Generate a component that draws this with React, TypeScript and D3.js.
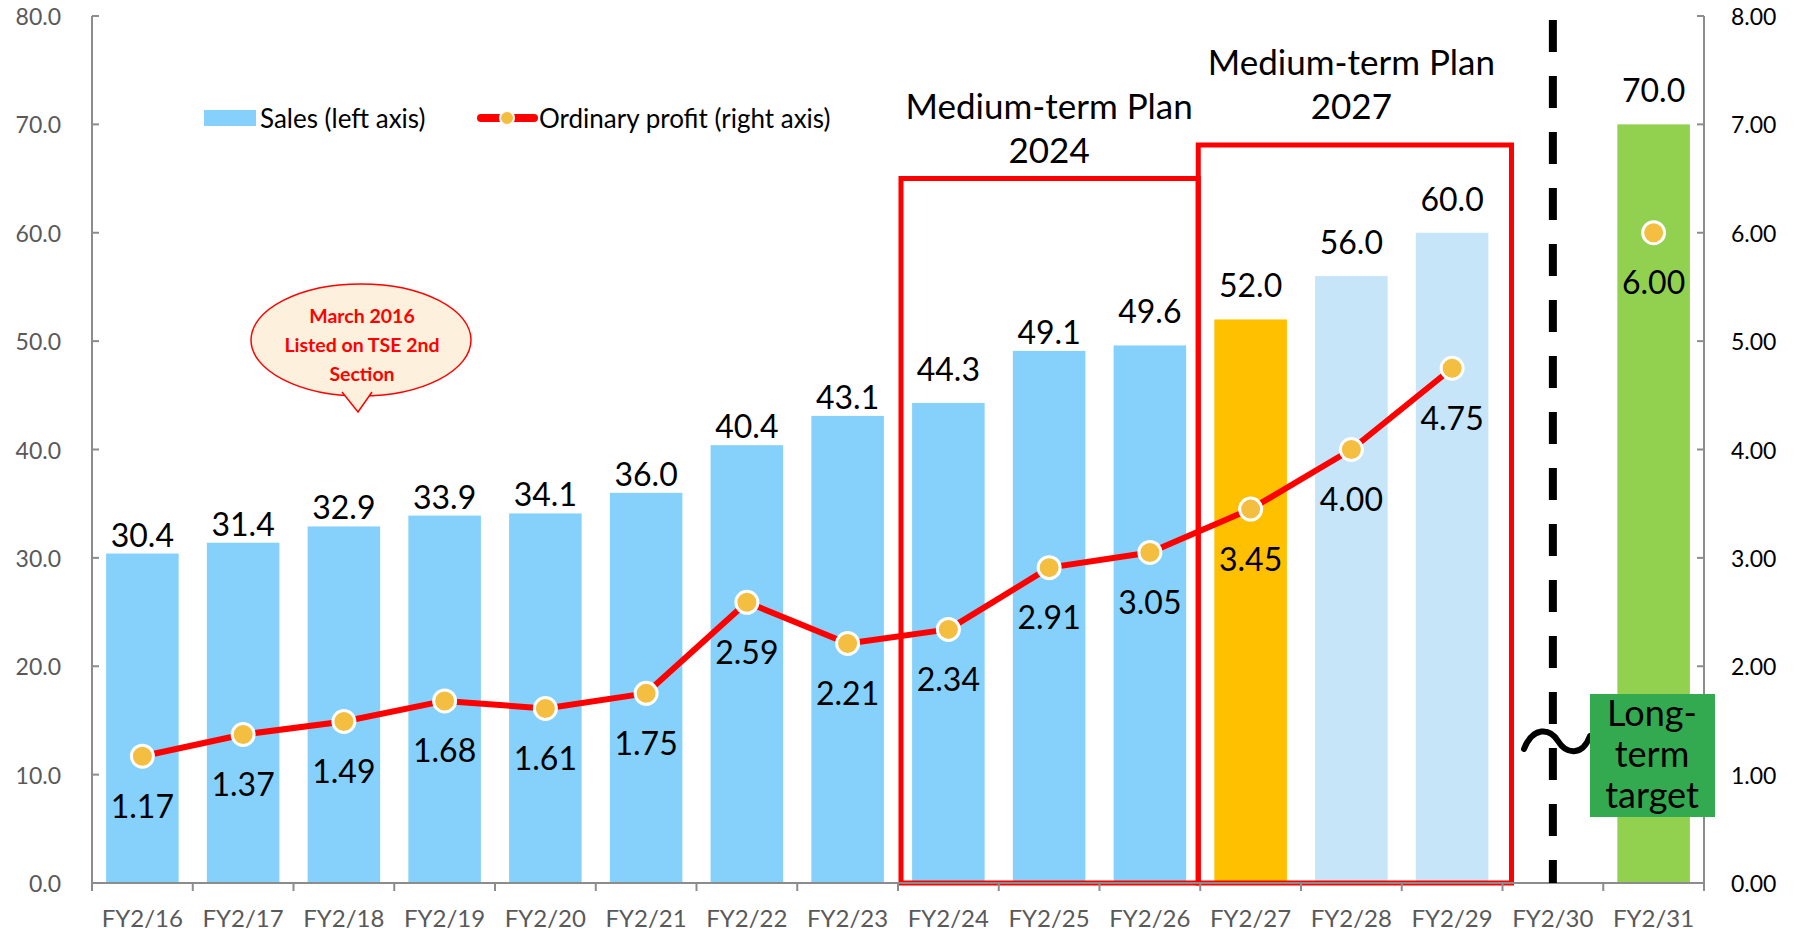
import React from "react";
import * as d3 from "d3";

const categories = ["FY2/16","FY2/17","FY2/18","FY2/19","FY2/20","FY2/21","FY2/22","FY2/23","FY2/24","FY2/25","FY2/26","FY2/27","FY2/28","FY2/29","FY2/30","FY2/31"];
const sales: (number | null)[] = [30.4,31.4,32.9,33.9,34.1,36.0,40.4,43.1,44.3,49.1,49.6,52.0,56.0,60.0,null,70.0];
const profit: (number | null)[] = [1.17,1.37,1.49,1.68,1.61,1.75,2.59,2.21,2.34,2.91,3.05,3.45,4.00,4.75,null,6.00];
const status = ["actual","actual","actual","actual","actual","actual","actual","actual","actual","actual","actual","current","plan","plan","none","target"];
const leftTicks = [0,10,20,30,40,50,60,70,80];
const rightTicks = [0,1,2,3,4,5,6,7,8];
const plan2024 = { from: "FY2/24", to: "FY2/26", top: 65, title: ["Medium-term Plan", "2024"] };
const plan2027 = { from: "FY2/27", to: "FY2/29", top: 68.1, title: ["Medium-term Plan", "2027"] };
const calloutLines = ["March 2016", "Listed on TSE 2nd", "Section"];
const targetLines = ["Long-", "term", "target"];
// categories whose sales label sits higher above the bar
const raisedLabels = ["FY2/24", "FY2/26", "FY2/27", "FY2/28", "FY2/29", "FY2/31"];

const W = 1799, H = 931;
const FONT = "Lato, 'Open Sans', sans-serif";
const colors: Record<string, string> = {
  actual: "#85D1FB",
  current: "#FFC000",
  plan: "#C6E5F8",
  target: "#92D050",
  none: "none",
};

export default function App() {
  const left = 92, right = 1704, top = 16, bottom = 883;
  const x = d3.scaleBand<string>().domain(categories).range([left, right]).paddingInner(0.28).paddingOuter(0.14);
  const yL = d3.scaleLinear().domain([0, 80]).range([bottom, top]);
  const yR = d3.scaleLinear().domain([0, 8]).range([bottom, top]);
  const step = x.step();
  const bw = x.bandwidth();
  const bandStart = (c: string) => (x(c) as number) - (step - bw) / 2;
  const cx = (c: string) => (x(c) as number) + bw / 2;

  const pts = categories.map((c, i) => ({ c, v: profit[i] }));
  const line = d3.line<{ c: string; v: number | null }>()
    .defined(d => d.v != null)
    .x(d => cx(d.c))
    .y(d => yR(d.v as number));

  const boundaries = d3.range(categories.length + 1).map(i => left + i * step);

  const box = (p: typeof plan2024, lOff: number, rOff: number) => {
    const x0 = bandStart(p.from) + lOff;
    const x1 = bandStart(p.to) + step + rOff;
    return { x0, x1, y0: yL(p.top) };
  };
  const b24 = box(plan2024, 3, -2);
  const b27 = box(plan2027, -2, 9);

  const dashX = cx("FY2/30");

  return (
    <svg width={W} height={H} style={{ position: "absolute", left: 0, top: 0, background: "#fff" }} fontFamily={FONT}>
      {/* bars */}
      {categories.map((c, i) => sales[i] == null ? null : (
        <rect key={c} x={x(c)} y={yL(sales[i] as number)} width={bw} height={bottom - yL(sales[i] as number)} fill={colors[status[i]]} />
      ))}
      {/* bar labels */}
      {categories.map((c, i) => sales[i] == null ? null : (
        <text key={"sl" + c} x={cx(c)} y={yL(sales[i] as number) - (raisedLabels.includes(c) ? 22 : 7)} textAnchor="middle" fontSize={32} fill="#000">{(sales[i] as number).toFixed(1)}</text>
      ))}

      {/* plan boxes */}
      <path d={`M${b24.x0},${bottom} V${b24.y0} H${b24.x1} V${bottom} Z`} fill="none" stroke="#FF0000" strokeWidth={5} />
      <path d={`M${b27.x0},${bottom} V${b27.y0} H${b27.x1} V${bottom} Z`} fill="none" stroke="#FF0000" strokeWidth={5} />
      {plan2024.title.map((t, i) => (
        <text key={"t24" + i} x={(bandStart(plan2024.from) + bandStart(plan2024.to) + step) / 2} y={105 + i * 44} textAnchor="middle" dominantBaseline="central" fontSize={35} fill="#000">{t}</text>
      ))}
      {plan2027.title.map((t, i) => (
        <text key={"t27" + i} x={(bandStart(plan2027.from) + bandStart(plan2027.to) + step) / 2} y={61 + i * 44} textAnchor="middle" dominantBaseline="central" fontSize={35} fill="#000">{t}</text>
      ))}

      {/* axes */}
      <line x1={left} x2={right} y1={bottom} y2={bottom} stroke="#8C8C8C" strokeWidth={2} />
      {boundaries.map((b, i) => (
        <line key={"xt" + i} x1={b} x2={b} y1={bottom} y2={bottom + 8} stroke="#8C8C8C" strokeWidth={2} />
      ))}
      <line x1={left} x2={left} y1={top} y2={bottom} stroke="#8C8C8C" strokeWidth={2} />
      <line x1={right} x2={right} y1={top} y2={bottom} stroke="#8C8C8C" strokeWidth={2} />
      {leftTicks.map(t => (
        <g key={"lt" + t}>
          <line x1={left} x2={left + 7} y1={yL(t)} y2={yL(t)} stroke="#8C8C8C" strokeWidth={2} />
          <text x={61} y={yL(t)} textAnchor="end" dominantBaseline="central" fontSize={23} fill="#595959">{t.toFixed(1)}</text>
        </g>
      ))}
      {rightTicks.map(t => (
        <g key={"rt" + t}>
          <line x1={right - 7} x2={right} y1={yR(t)} y2={yR(t)} stroke="#8C8C8C" strokeWidth={2} />
          <text x={1731} y={yR(t)} textAnchor="start" dominantBaseline="central" fontSize={23} fill="#000">{t.toFixed(2)}</text>
        </g>
      ))}
      {categories.map(c => (
        <text key={"xl" + c} x={cx(c)} y={917} textAnchor="middle" dominantBaseline="central" fontSize={24} fill="#595959">{c}</text>
      ))}

      {/* dashed separator */}
      <line x1={dashX} x2={dashX} y1={20} y2={bottom} stroke="#000" strokeWidth={8} strokeDasharray="32 24" />
      <path d="M1524,749 C1533,726 1550,728 1558,741 C1566,754 1582,757 1590,736" fill="none" stroke="#000" strokeWidth={6} strokeLinecap="round" />
      <rect x={1590} y={694} width={125} height={123} fill="#34AA50" />
      {targetLines.map((t, i) => (
        <text key={"tg" + i} x={1652} y={712 + i * 41} textAnchor="middle" dominantBaseline="central" fontSize={36} fill="#000">{t}</text>
      ))}

      {/* profit line */}
      <path d={line(pts) || ""} fill="none" stroke="#FF0000" strokeWidth={6} strokeLinejoin="round" />
      {pts.map(p => p.v == null ? null : (
        <circle key={"m" + p.c} cx={cx(p.c)} cy={yR(p.v)} r={11} fill="#F4BE41" stroke="#fff" strokeWidth={3} />
      ))}
      {pts.map(p => p.v == null ? null : (
        <text key={"pl" + p.c} x={cx(p.c)} y={yR(p.v) + 49} textAnchor="middle" dominantBaseline="central" fontSize={32} fill="#000">{p.v.toFixed(2)}</text>
      ))}

      {/* legend */}
      <rect x={204} y={110} width={52} height={16} fill={colors.actual} />
      <text x={260} y={118} dominantBaseline="central" fontSize={26} fill="#000">Sales (left axis)</text>
      <line x1={481} x2={534} y1={118} y2={118} stroke="#FF0000" strokeWidth={8} strokeLinecap="round" />
      <circle cx={507} cy={118} r={7} fill="#F4BE41" stroke="#fff" strokeWidth={2} />
      <text x={539} y={118} dominantBaseline="central" fontSize={26} fill="#000">Ordinary profit (right axis)</text>

      {/* callout */}
      <ellipse cx={361} cy={340} rx={110} ry={56} fill="#FDF0DC" stroke="#FF0000" strokeWidth={1.5} />
      <path d="M342,392 L358,412 L372,392" fill="#FDF0DC" stroke="#FF0000" strokeWidth={1.5} />
      <path d="M343.5,391 L358,409 L370.5,391" fill="#FDF0DC" stroke="none" />
      {calloutLines.map((t, i) => (
        <text key={"co" + i} x={362} y={315 + i * 29} textAnchor="middle" dominantBaseline="central" fontSize={19.5} fontWeight="bold" fill="#FF0000">{t}</text>
      ))}
    </svg>
  );
}
